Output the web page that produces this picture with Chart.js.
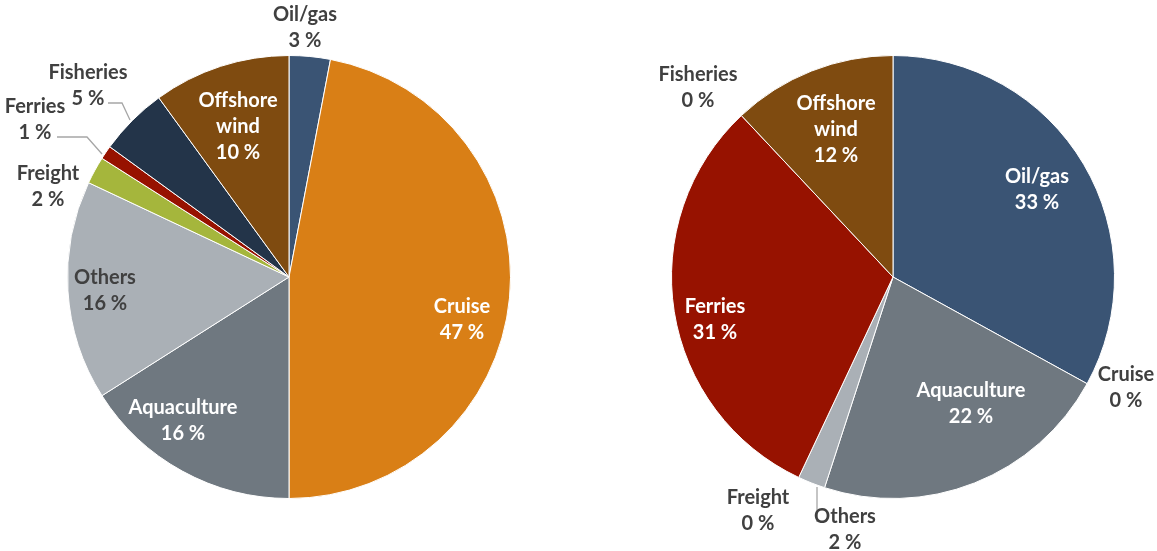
<!DOCTYPE html>
<html lang="en">
<head>
    <meta charset="UTF-8">
    <title>Pie charts</title>
    <script src="https://cdn.jsdelivr.net/npm/chart.js@4.4.1/dist/chart.umd.min.js"></script>
    <style>
        body { margin: 0; background: #fff; }
        #wrap { position: relative; width: 1157px; height: 551px; }
        canvas { position: absolute; top: 0; }
    </style>
</head>
<body>
    <div id="wrap">
        <canvas id="leftPie" width="578" height="551" style="left:0"></canvas>
        <canvas id="rightPie" width="579" height="551" style="left:578px"></canvas>
    </div>
    <script>
        const segments = ['Oil/gas', 'Cruise', 'Aquaculture', 'Others', 'Freight', 'Ferries', 'Fisheries', 'Offshore wind'];
        const leftValues = [3, 47, 16, 16, 2, 1, 5, 10];
        const rightValues = [33, 0, 22, 2, 0, 31, 0, 12];
        const segmentColors = ['#3A5474', '#D97F16', '#6F7880', '#AAB0B6', '#A5B63C', '#971200', '#233449', '#7F4B10'];

        // label placement relative to pie centre: [dx, dy, style]
        const leftSpots = [[16, -249, 'out'], [173, 43, 'in'], [-106, 144, 'in'], [-184, 14, 'dark'],
            [-241, -90, 'out'], [-254, -157, 'out'], [-201, -191, 'out'], [-51, -150, 'in']];
        const rightSpots = [[144, -87, 'in'], [233, 111, 'out'], [78, 127, 'in'], [-48, 253, 'out'],
            [-135, 234, 'out'], [-178, 43, 'in'], [-195, -189, 'out'], [-57, -147, 'in']];
        const leftLeaders = [[[-181, -174], [-167, -174], [-159, -157]], [[-232, -140], [-202, -140], [-187, -123]]];
        const rightLeaders = [[[-76, 210], [-76, 245]]];

        const sliceLabels = {
            id: 'sliceLabels',
            afterDatasetsDraw(chart, args, opts) {
                const ctx = chart.ctx;
                const arc = chart.getDatasetMeta(0).data[0];
                const cx = arc.x, cy = arc.y;
                ctx.save();
                ctx.strokeStyle = '#A6A6A6';
                ctx.lineWidth = 1.3;
                opts.leaders.forEach(pts => {
                    ctx.beginPath();
                    pts.forEach((p, i) => i ? ctx.lineTo(cx + p[0], cy + p[1]) : ctx.moveTo(cx + p[0], cy + p[1]));
                    ctx.stroke();
                });
                ctx.font = 'bold 20px Lato, "Liberation Sans", sans-serif';
                ctx.textAlign = 'center';
                ctx.textBaseline = 'middle';
                const vals = chart.data.datasets[0].data;
                chart.data.labels.forEach((name, i) => {
                    const spot = opts.spots[i];
                    const lines = name.split(' ').concat([vals[i] + ' %']);
                    ctx.fillStyle = spot[2] === 'in' ? '#FFFFFF' : '#404040';
                    const top = cy + spot[1] - (lines.length - 1) * 13;
                    lines.forEach((t, k) => ctx.fillText(t, cx + spot[0], top + k * 26));
                });
                ctx.restore();
            }
        };

        function makePie(id, values, spots, leaders, pad) {
            return new Chart(document.getElementById(id), {
                type: 'pie',
                data: {
                    labels: segments,
                    datasets: [{
                        data: values,
                        backgroundColor: segmentColors,
                        borderColor: '#FFFFFF',
                        borderWidth: ctx => ctx.raw === 0 ? 0 : 1
                    }]
                },
                options: {
                    responsive: false,
                    animation: false,
                    layout: { padding: pad },
                    plugins: {
                        legend: { display: false },
                        tooltip: { enabled: false },
                        sliceLabels: { spots: spots, leaders: leaders }
                    }
                },
                plugins: [sliceLabels]
            });
        }

        makePie('leftPie', leftValues, leftSpots, leftLeaders, { left: 67, right: 67, top: 55, bottom: 52 });
        makePie('rightPie', rightValues, rightSpots, rightLeaders, { left: 93, right: 42, top: 55, bottom: 52 });
    </script>
</body>
</html>
